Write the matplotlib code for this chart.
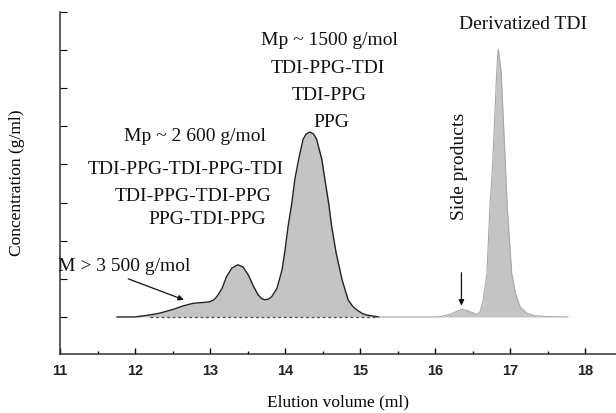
import numpy as np
import matplotlib
matplotlib.use("Agg")
import matplotlib.pyplot as plt

# chromatogram trace (elution volume in ml, relative concentration)
polymer_x = [11.76, 12.0, 12.11, 12.22, 12.33, 12.42, 12.51, 12.64, 12.78, 12.91, 13.0,
             13.05, 13.09, 13.16, 13.22, 13.29, 13.37, 13.44, 13.51, 13.58, 13.64, 13.69,
             13.73, 13.78, 13.82, 13.89, 13.96, 14.0, 14.04, 14.09, 14.13, 14.18, 14.24,
             14.28, 14.33, 14.38, 14.42, 14.49, 14.53, 14.58, 14.62, 14.68, 14.76, 14.84,
             14.90, 14.96, 15.03, 15.09, 15.25]
polymer_y = [0.0, 0.0, 0.03, 0.06, 0.10, 0.15, 0.20, 0.29, 0.36, 0.38, 0.40,
             0.45, 0.53, 0.75, 1.06, 1.28, 1.37, 1.31, 1.10, 0.80, 0.58, 0.48,
             0.45, 0.47, 0.53, 0.74, 1.24, 1.76, 2.38, 2.99, 3.61, 4.13, 4.66,
             4.80, 4.85, 4.80, 4.66, 4.13, 3.61, 2.99, 2.38, 1.68, 0.97, 0.45,
             0.28, 0.18, 0.09, 0.05, 0.0]

tdi_x = [15.25, 16.0, 16.07, 16.2, 16.30, 16.36, 16.43, 16.51, 16.56, 16.60, 16.64, 16.69,
         16.71, 16.73, 16.76, 16.78, 16.80, 16.82, 16.84, 16.88, 16.90, 16.92, 16.94,
         16.96, 16.99, 17.02, 17.07, 17.13, 17.22, 17.33, 17.50, 17.77]
tdi_y = [0.0, 0.0, 0.01, 0.07, 0.16, 0.20, 0.17, 0.10, 0.07, 0.14, 0.45, 1.15,
         2.03, 2.90, 3.78, 4.66, 5.53, 6.41, 7.03, 6.41, 5.53, 4.66, 3.78,
         2.90, 2.03, 1.15, 0.62, 0.27, 0.10, 0.03, 0.01, 0.0]

x_ticks = [11, 12, 13, 14, 15, 16, 17, 18]
y_ticks = [0, 1, 2, 3, 4, 5, 6, 7, 8]

serif = ["Liberation Serif", "DejaVu Serif"]
fill_col = "#c4c4c4"

fig = plt.figure(figsize=(6.16, 4.13), dpi=100)
ax = fig.add_axes([0.0974, 0.143, 0.9026, 0.828])

ax.fill_between(polymer_x, polymer_y, 0, color=fill_col, lw=0)
ax.fill_between(tdi_x, tdi_y, 0, color=fill_col, lw=0)
ax.plot(polymer_x, polymer_y, color="#222222", lw=1.0)
ax.plot(tdi_x, tdi_y, color="#a8a8a8", lw=0.8)
ax.plot([12.2, 15.2], [0, 0], color="#555555", lw=1.0, ls=(0, (2, 2)))

ax.set_xlim(11, 18.41)
ax.set_ylim(-0.97, 8.0)
ax.set_xticks(x_ticks)
ax.set_xticks(np.arange(11.5, 18.5, 1.0), minor=True)
ax.set_yticks(y_ticks)
ax.set_yticklabels([])
ax.tick_params(axis="x", which="major", direction="in", length=4, width=1.0,
               pad=7, labelsize=10.5)
ax.tick_params(axis="x", which="minor", direction="in", length=2.5, width=1.0)
ax.tick_params(axis="y", direction="in", length=5, width=0.8)
for lab in ax.get_xticklabels():
    lab.set_fontfamily(["Liberation Sans", "DejaVu Sans"])
    lab.set_fontweight("bold")
    lab.set_color("#222222")
for s in ["top", "right"]:
    ax.spines[s].set_visible(False)
for s in ["left", "bottom"]:
    ax.spines[s].set_linewidth(1.1)
    ax.spines[s].set_color("#333333")

ax.set_xlabel("Elution volume (ml)", family=serif, fontsize=12.5, labelpad=12)
ax.set_ylabel("Concentration (g/ml)", family=serif, fontsize=12.5, labelpad=22)

txt = dict(family=serif, fontsize=14, ha="center", va="center", color="#111111")
ax.text(14.59, 7.24, "Mp ~ 1500 g/mol", **txt)
ax.text(14.57, 6.52, "TDI-PPG-TDI", **txt)
ax.text(14.59, 5.82, "TDI-PPG", **txt)
ax.text(14.62, 5.10, "PPG", **txt)
ax.text(12.80, 4.74, "Mp ~ 2 600 g/mol", **txt)
ax.text(12.68, 3.87, "TDI-PPG-TDI-PPG-TDI", **txt)
ax.text(12.77, 3.16, "TDI-PPG-TDI-PPG", **txt)
ax.text(12.96, 2.55, "PPG-TDI-PPG", **txt)
ax.text(11.85, 1.32, "M > 3 500 g/mol", **txt)
ax.text(17.17, 7.68, "Derivatized TDI", **txt)
ax.text(16.32, 3.95, "Side products", rotation=90, **txt)

ax.annotate("", xy=(12.65, 0.45), xytext=(11.91, 1.0),
            arrowprops=dict(arrowstyle="-|>", color="#111111", lw=0.9,
                            mutation_scale=8, shrinkA=0, shrinkB=0))
ax.annotate("", xy=(16.35, 0.30), xytext=(16.35, 1.16),
            arrowprops=dict(arrowstyle="-|>", color="#111111", lw=0.9,
                            mutation_scale=8, shrinkA=0, shrinkB=0))

fig.savefig("out.png", dpi=100)
